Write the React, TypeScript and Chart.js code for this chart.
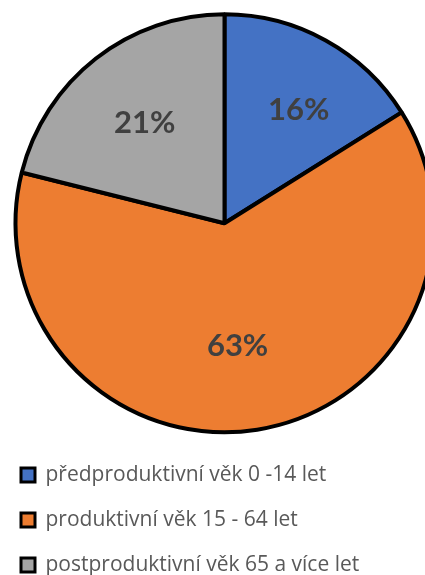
import { useEffect, useRef } from "react";
import { Chart, registerables } from "chart.js";

Chart.register(...registerables);

const categories = [
  "předproduktivní věk 0 -14 let",
  "produktivní věk 15 - 64 let",
  "postproduktivní věk 65 a více let",
];
const values = [16.1, 62.8, 21.1];
const colors = ["#4472C4", "#ED7D31", "#A5A5A5"];

// label placement style (radial fraction, angular nudge in degrees)
const labelRadiusFactors = [0.655, 0.58, 0.62];
const labelAngleNudge = [3.8, 2.8, 0];

const labelPlugin = {
  id: "pctLabels",
  afterDatasetsDraw(chart: any) {
    const ctx = chart.ctx as CanvasRenderingContext2D;
    const meta = chart.getDatasetMeta(0);
    const data = chart.data.datasets[0].data as number[];
    const total = data.reduce((a, b) => a + b, 0);
    ctx.save();
    ctx.font = "bold 31px Lato";
    ctx.fillStyle = "#404040";
    ctx.textAlign = "center";
    ctx.textBaseline = "middle";
    meta.data.forEach((arc: any, i: number) => {
      const p = arc.getProps(["x", "y", "startAngle", "endAngle", "outerRadius"], true);
      const mid = (p.startAngle + p.endAngle) / 2 + (labelAngleNudge[i] * Math.PI) / 180;
      const r = p.outerRadius * labelRadiusFactors[i];
      ctx.fillText(
        Math.round((data[i] / total) * 100) + "%",
        p.x + Math.cos(mid) * r,
        p.y + Math.sin(mid) * r + 2
      );
    });
    ctx.restore();
  },
};

export default function App() {
  const ref = useRef<HTMLCanvasElement | null>(null);
  useEffect(() => {
    if (!ref.current) return;
    const chart = new Chart(ref.current, {
      type: "pie",
      data: {
        labels: categories,
        datasets: [
          {
            data: values,
            backgroundColor: colors,
            borderColor: "#000000",
            borderWidth: 4,
            hoverOffset: 0,
          },
        ],
      },
      options: {
        responsive: false,
        animation: false,
        radius: 209,
        layout: { padding: { top: 6, left: -3, right: 0, bottom: -10.5 } },
        events: [],
        plugins: {
          tooltip: { enabled: false },
          legend: {
            display: true,
            position: "bottom",
            align: "start",
            labels: {
              boxWidth: 14,
              boxHeight: 14,
              padding: 24,
              color: "#595959",
              font: { family: "'Open Sans'", size: 21, lineHeight: 1 },
              generateLabels: (c: any) =>
                c.data.labels.map((l: string, i: number) => ({
                  text: l,
                  fillStyle: colors[i],
                  strokeStyle: "#000000",
                  lineWidth: 3,
                  hidden: false,
                  index: i,
                  fontColor: "#595959",
                })),
            },
          },
        },
      } as any,
      plugins: [labelPlugin],
    });
    return () => chart.destroy();
  }, []);
  return (
    <div
      style={{
        position: "fixed",
        left: 0,
        top: 0,
        width: 425,
        height: 575,
        overflow: "hidden",
        background: "#ffffff",
      }}
    >
      <canvas ref={ref} width={449} height={575} style={{ display: "block" }} />
    </div>
  );
}
